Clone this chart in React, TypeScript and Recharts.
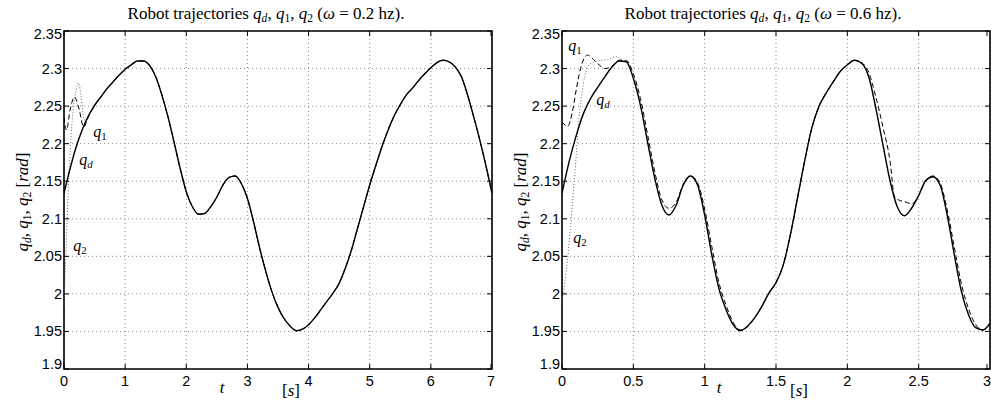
import { CartesianGrid, Line, LineChart, ReferenceArea, XAxis, YAxis } from "recharts";

// time grid and desired trajectory, omega = 0.2 hz
const tLeft = [
  0, 0.1, 0.2, 0.3, 0.4, 0.5, 0.6, 0.7, 0.8, 0.9, 1, 1.1, 1.2, 1.3, 1.4, 1.5, 1.6, 1.7, 1.8, 1.9,
  2, 2.1, 2.2, 2.3, 2.4, 2.5, 2.6, 2.7, 2.8, 2.9, 3, 3.1, 3.2, 3.3, 3.4, 3.5, 3.6, 3.7, 3.8, 3.9,
  4, 4.1, 4.2, 4.3, 4.4, 4.5, 4.6, 4.7, 4.8, 4.9, 5, 5.1, 5.2, 5.3, 5.4, 5.5, 5.6, 5.7, 5.8, 5.9,
  6, 6.1, 6.2, 6.3, 6.4, 6.5, 6.6, 6.7, 6.8, 6.9, 7,
];
const qdLeft = [
  2.134, 2.167, 2.196, 2.219, 2.237, 2.251, 2.262, 2.273, 2.282, 2.291, 2.299, 2.305, 2.31, 2.31,
  2.304, 2.289, 2.265, 2.236, 2.202, 2.167, 2.136, 2.116, 2.106, 2.107, 2.116, 2.129, 2.145, 2.155,
  2.157, 2.147, 2.127, 2.096, 2.061, 2.03, 2.003, 1.982, 1.967, 1.957, 1.951, 1.953, 1.959, 1.968,
  1.979, 1.99, 2.001, 2.014, 2.034, 2.058, 2.087, 2.116, 2.145, 2.171, 2.196, 2.218, 2.237, 2.252,
  2.265, 2.274, 2.284, 2.293, 2.301, 2.308, 2.311, 2.309, 2.302, 2.289, 2.265, 2.236, 2.205, 2.171,
  2.134,
];
// start-up transients, after which q1 and q2 sit on q_d
const q1LeftT = [0, 0.04, 0.1, 0.17, 0.25, 0.32, 0.4];
const q1LeftV = [2.235, 2.218, 2.245, 2.262, 2.245, 2.222, 2.236];
const q2LeftT = [0, 0.03, 0.06, 0.1, 0.15, 0.2, 0.24, 0.28, 0.33, 0.4];
const q2LeftV = [1.985, 2.05, 2.12, 2.19, 2.245, 2.272, 2.281, 2.262, 2.232, 2.237];

// omega = 0.6 hz
const tRight = [
  0, 0.05, 0.1, 0.15, 0.2, 0.25, 0.3, 0.35, 0.4, 0.45, 0.5, 0.55, 0.6, 0.65, 0.7, 0.75, 0.8, 0.85,
  0.9, 0.95, 1, 1.05, 1.1, 1.15, 1.2, 1.25, 1.3, 1.35, 1.4, 1.45, 1.5, 1.55, 1.6, 1.65, 1.7, 1.75,
  1.8, 1.85, 1.9, 1.95, 2, 2.05, 2.1, 2.15, 2.2, 2.25, 2.3, 2.35, 2.4, 2.45, 2.5, 2.55, 2.6, 2.65,
  2.7, 2.75, 2.8, 2.85, 2.9, 2.95, 3,
];
const qdRight = [
  2.134, 2.176, 2.211, 2.24, 2.26, 2.275, 2.289, 2.302, 2.31, 2.309, 2.287, 2.251, 2.202, 2.154,
  2.118, 2.105, 2.118, 2.145, 2.157, 2.145, 2.105, 2.052, 2.007, 1.979, 1.959, 1.951, 1.957, 1.968,
  1.983, 2.001, 2.015, 2.038, 2.078, 2.127, 2.176, 2.22, 2.249, 2.267, 2.282, 2.296, 2.305, 2.311,
  2.307, 2.289, 2.247, 2.198, 2.15, 2.116, 2.104, 2.114, 2.131, 2.151, 2.156, 2.145, 2.105, 2.052,
  2.003, 1.972, 1.955, 1.952, 1.961,
];
const q1RightT = [
  0, 0.04, 0.07, 0.1, 0.13, 0.18, 0.22, 0.26, 0.3, 0.35, 0.4, 0.45, 0.5, 0.55, 0.6, 0.65, 0.7, 0.75,
  0.8, 0.85, 0.9, 0.95, 1, 1.05, 1.1, 1.15, 1.2, 1.25, 1.3, 1.35, 1.4, 1.45, 1.5, 1.55, 1.6, 1.65,
  1.7, 1.75, 1.8, 1.85, 1.9, 1.95, 2, 2.05, 2.1, 2.15, 2.2, 2.25, 2.3, 2.33, 2.36, 2.4, 2.45, 2.5,
  2.55, 2.6, 2.65, 2.7, 2.75, 2.8, 2.85, 2.9, 2.95, 3,
];
const q1RightV = [
  2.229, 2.223, 2.24, 2.272, 2.3, 2.318, 2.312, 2.305, 2.3, 2.303, 2.311, 2.311, 2.293, 2.26, 2.212,
  2.163, 2.125, 2.114, 2.122, 2.146, 2.157, 2.148, 2.113, 2.063, 2.015, 1.985, 1.962, 1.952, 1.956,
  1.968, 1.983, 2.001, 2.015, 2.038, 2.078, 2.127, 2.176, 2.22, 2.249, 2.267, 2.282, 2.296, 2.305,
  2.311, 2.308, 2.295, 2.262, 2.222, 2.176, 2.13, 2.125, 2.123, 2.12, 2.131, 2.151, 2.157, 2.148,
  2.112, 2.062, 2.013, 1.98, 1.959, 1.952, 1.96,
];
const q2RightT = [0, 0.03, 0.06, 0.09, 0.12, 0.15, 0.19, 0.25, 0.32, 0.38, 0.42];
const q2RightV = [1.99, 2.03, 2.09, 2.16, 2.235, 2.28, 2.305, 2.31, 2.312, 2.316, 2.312];

const yTicks = [1.9, 1.95, 2, 2.05, 2.1, 2.15, 2.2, 2.25, 2.3, 2.35];
const xTicksLeft = [0, 1, 2, 3, 4, 5, 6, 7];
const xTicksRight = [0, 0.5, 1, 1.5, 2, 2.5, 3];

const rows = (ts: number[], vs: number[]) => ts.map((t, i) => ({ t, q: vs[i] }));

const PLOT_TOP = 31;
const PLOT_W = 428;
const SANS = "'Liberation Sans', Arial, Helvetica, sans-serif";
const SERIF = "'Liberation Serif', 'Times New Roman', serif";

function XTick(props: any) {
  const { x, y, payload } = props;
  return (
    <g>
      <line x1={x} x2={x} y1={y} y2={y - 5} stroke="#000" />
      <line x1={x} x2={x} y1={PLOT_TOP} y2={PLOT_TOP + 5} stroke="#000" />
      <text x={x} y={y + 17} textAnchor="middle" fontSize={14.5} fontFamily={SANS} fill="#000">
        {payload.value}
      </text>
    </g>
  );
}

function YTick(props: any) {
  const { x, y, payload } = props;
  const dy = payload.value === 2.35 ? 3 : payload.value === 1.9 ? -5 : 0;
  return (
    <g>
      <line x1={x} x2={x + 5} y1={y} y2={y} stroke="#000" />
      <line x1={x + PLOT_W} x2={x + PLOT_W - 5} y1={y} y2={y} stroke="#000" />
      <text x={x - 2} y={y + 5 + dy} textAnchor="end" fontSize={14.5} fontFamily={SANS} fill="#000">
        {payload.value}
      </text>
    </g>
  );
}

const Q = ({ s }: { s: string }) => (
  <span>
    <i>q</i>
    <sub style={{ fontSize: "0.68em", verticalAlign: "-0.3em", lineHeight: 0, fontStyle: s === "d" ? "italic" : "normal" }}>
      {s}
    </sub>
  </span>
);

function Abs({ x, y, size = 15, rotate = false, children }: any) {
  return (
    <div
      style={{
        position: "absolute",
        left: x,
        top: y,
        transform: `translate(-50%, -50%)${rotate ? " rotate(-90deg)" : ""}`,
        fontFamily: SERIF,
        fontSize: size,
        whiteSpace: "nowrap",
        lineHeight: 1,
        color: "#000",
        pointerEvents: "none",
      }}
    >
      {children}
    </div>
  );
}

type PanelProps = {
  left: number;
  width: number;
  right: number;
  xMax: number;
  xTicks: number[];
  qd: { t: number; q: number }[];
  q1: { t: number; q: number }[];
  q2: { t: number; q: number }[];
  omega: string;
  titleX: number;
  tX: number;
  sX: number;
  yLabelX: number;
  lab: { q1: number[]; qd: number[]; q2: number[] };
};

function Panel(p: PanelProps) {
  return (
    <div style={{ position: "absolute", left: p.left, top: 0, width: p.width, height: 406 }}>
      <LineChart width={p.width} height={406} margin={{ top: PLOT_TOP, right: p.right, bottom: 0, left: 0 }}>
        <CartesianGrid stroke="#8a8a8a" strokeDasharray="1 3" strokeWidth={1} />
        <XAxis
          dataKey="t"
          type="number"
          domain={[0, p.xMax]}
          ticks={p.xTicks}
          allowDataOverflow
          height={37}
          tickSize={0}
          tickMargin={0}
          tickLine={false}
          axisLine={false}
          tick={<XTick />}
        />
        <YAxis
          type="number"
          domain={[1.9, 2.35]}
          ticks={yTicks}
          allowDataOverflow
          width={64}
          tickSize={0}
          tickMargin={0}
          tickLine={false}
          axisLine={false}
          tick={<YTick />}
        />
        <Line data={p.q2} dataKey="q" type="monotone" stroke="#666" strokeWidth={1} strokeDasharray="1 2" dot={false} isAnimationActive={false} />
        <Line data={p.q1} dataKey="q" type="monotone" stroke="#000" strokeWidth={1} strokeDasharray="5 3" dot={false} isAnimationActive={false} />
        <Line data={p.qd} dataKey="q" type="monotone" stroke="#000" strokeWidth={1.4} dot={false} isAnimationActive={false} />
        <ReferenceArea x1={0} x2={p.xMax} y1={1.9} y2={2.35} fill="none" stroke="#000" strokeWidth={1.6} ifOverflow="visible" />
      </LineChart>
      <Abs x={p.titleX} y={13} size={17}>
        Robot trajectories <Q s="d" />, <Q s="1" />, <Q s="2" /> (<i>ω</i> = {p.omega} hz).
      </Abs>
      <Abs x={p.yLabelX} y={202} size={17} rotate>
        <Q s="d" />, <Q s="1" />, <Q s="2" /> [<i>rad</i>]
      </Abs>
      <Abs x={p.tX} y={387} size={17}>
        <i>t</i>
      </Abs>
      <Abs x={p.sX} y={390} size={17}>
        [<i>s</i>]
      </Abs>
      <Abs x={p.lab.q1[0]} y={p.lab.q1[1]} size={16}>
        <Q s="1" />
      </Abs>
      <Abs x={p.lab.qd[0]} y={p.lab.qd[1]} size={16}>
        <Q s="d" />
      </Abs>
      <Abs x={p.lab.q2[0]} y={p.lab.q2[1]} size={16}>
        <Q s="2" />
      </Abs>
    </div>
  );
}

export default function App() {
  const qdL = rows(tLeft, qdLeft);
  const q1L = rows(q1LeftT, q1LeftV).concat(qdL.filter((r) => r.t > 0.45));
  const q2L = rows(q2LeftT, q2LeftV).concat(qdL.filter((r) => r.t > 0.45));
  const qdR = rows(tRight, qdRight);
  const q1R = rows(q1RightT, q1RightV);
  const q2R = rows(q2RightT, q2RightV).concat(qdR.filter((r) => r.t > 0.43));

  return (
    <div style={{ position: "absolute", left: 0, top: 0, width: 991, height: 406, overflow: "hidden", background: "#fff" }}>
      <Panel
        left={0}
        width={495}
        right={3}
        xMax={7}
        xTicks={xTicksLeft}
        qd={qdL}
        q1={q1L}
        q2={q2L}
        omega="0.2"
        titleX={266}
        tX={222}
        sX={291}
        yLabelX={22}
        lab={{ q1: [100, 132], qd: [86, 160], q2: [80, 246] }}
      />
      <Panel
        left={498}
        width={493}
        right={1}
        xMax={3}
        xTicks={xTicksRight}
        qd={qdR}
        q1={q1R}
        q2={q2R}
        omega="0.6"
        titleX={763 - 498}
        tX={719 - 498}
        sX={799 - 498}
        yLabelX={22}
        lab={{ q1: [575 - 498, 46], qd: [603 - 498, 100], q2: [580 - 498, 238] }}
      />
    </div>
  );
}
